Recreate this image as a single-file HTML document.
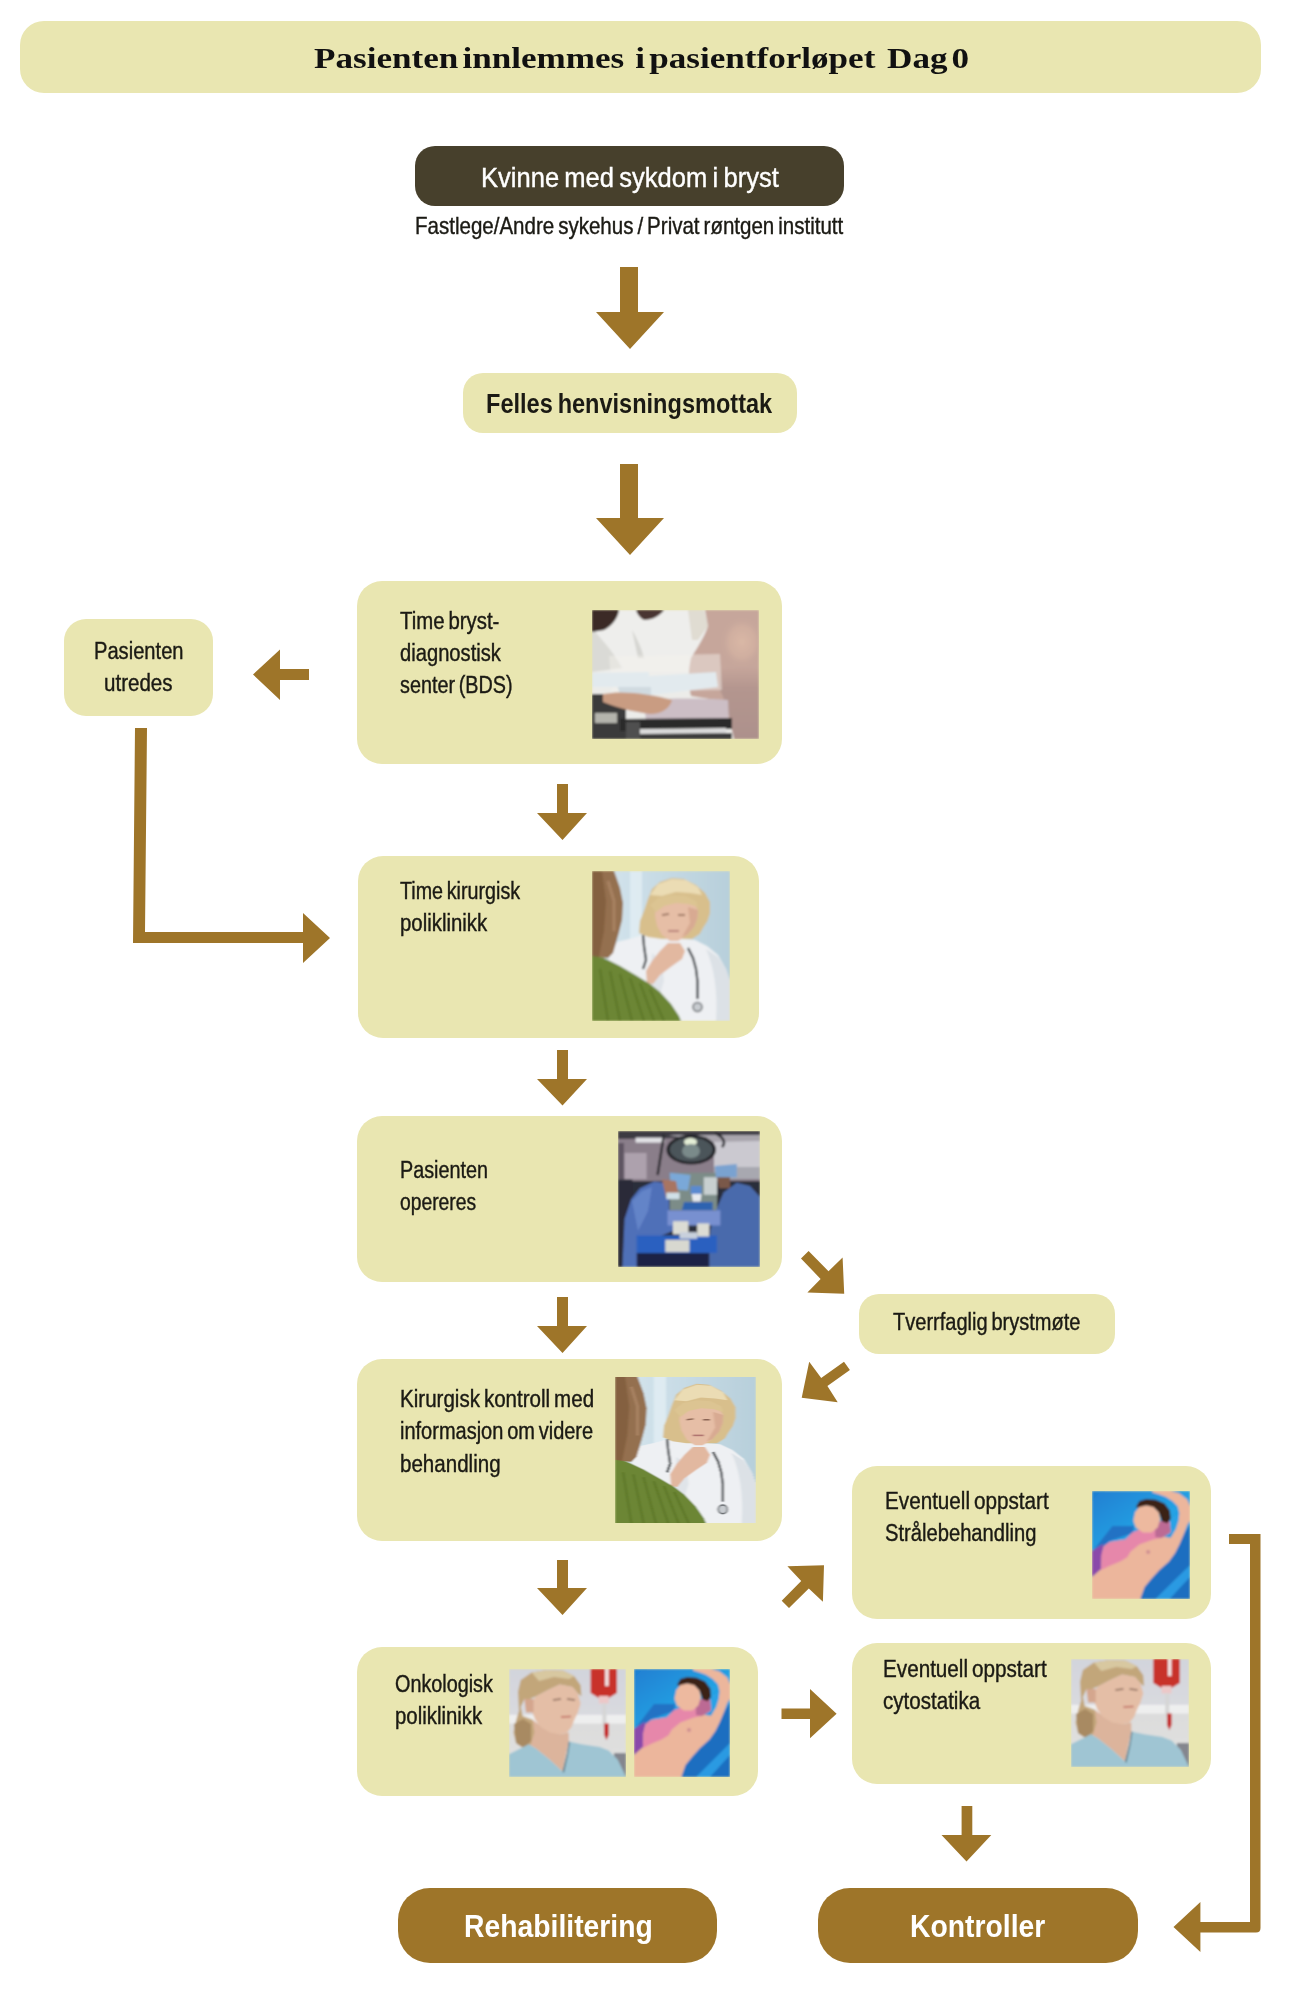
<!DOCTYPE html>
<html><head><meta charset="utf-8">
<style>
html,body{margin:0;padding:0;background:#fff;}
body{width:1291px;height:2000px;position:relative;overflow:hidden;font-family:"Liberation Sans",sans-serif;color:#1b1a14;}
.bx{position:absolute;background:#e9e6b1;border-radius:25px;}
.t{position:absolute;white-space:nowrap;font-size:23px;line-height:32px;transform-origin:0 0;transform:scaleX(0.86);word-spacing:-2px;-webkit-text-stroke:0.4px #1b1a14;}
.ph{position:absolute;overflow:hidden;}
.ph svg{display:block;width:100%;height:100%;}
#arrows{position:absolute;left:0;top:0;}
</style></head><body>

<svg width="0" height="0" style="position:absolute">
<defs>
<filter id="soft" x="0" y="0" width="1" height="1"><feGaussianBlur stdDeviation="0.8"/></filter>
<linearGradient id="docbg" x1="0" y1="0" x2="1" y2="0"><stop offset="0" stop-color="#d6e6ee"/><stop offset="1" stop-color="#b7cfdb"/></linearGradient>
<linearGradient id="radbg" x1="0" y1="0" x2="0.6" y2="1"><stop offset="0" stop-color="#1f7fd2"/><stop offset="0.5" stop-color="#25a2e4"/><stop offset="1" stop-color="#1c8ad6"/></linearGradient>
<linearGradient id="nurbg" x1="0" y1="0" x2="0" y2="1"><stop offset="0" stop-color="#d2d4dc"/><stop offset="0.42" stop-color="#d9dadf"/><stop offset="0.43" stop-color="#eff0f0"/><stop offset="0.5" stop-color="#eeeeee"/><stop offset="0.51" stop-color="#dcdcdc"/><stop offset="1" stop-color="#e2e2e0"/></linearGradient>
<linearGradient id="surgtop" x1="0" y1="0" x2="1" y2="0"><stop offset="0" stop-color="#8c8290"/><stop offset="1" stop-color="#d2d0d6"/></linearGradient>
<radialGradient id="bdshl"><stop offset="0" stop-color="#dab8a6"/><stop offset="0.6" stop-color="#d4b2a2" stop-opacity="0.7"/><stop offset="1" stop-color="#c6a69b" stop-opacity="0"/></radialGradient>
<linearGradient id="bdsdk" x1="0" y1="0" x2="0" y2="1"><stop offset="0" stop-color="#b4968f" stop-opacity="0"/><stop offset="0.3" stop-color="#b4968f"/><stop offset="1" stop-color="#ad918c"/></linearGradient>
</defs>
</svg>

<!-- header -->
<div class="bx" style="left:20px;top:21px;width:1241px;height:72px;border-radius:24px;"></div>
<div style="position:absolute;left:314px;top:38px;white-space:nowrap;font-family:'Liberation Serif',serif;font-weight:bold;font-size:30px;line-height:40px;color:#111;transform-origin:0 0;transform:scaleX(1.17);word-spacing:-4px;">Pasienten innlemmes&nbsp;<span style="display:inline-block;width:2.5px"></span> i pasientforløpet&nbsp;<span style="display:inline-block;width:3px"></span> Dag 0</div>

<!-- dark box -->
<div style="position:absolute;left:415px;top:146px;width:429px;height:60px;border-radius:20px;background:#47402c;"></div>
<div class="t" style="left:481px;top:162px;color:#fff;font-size:28px;transform:scaleX(0.912);-webkit-text-stroke:0.4px #fff;">Kvinne med sykdom i bryst</div>
<div class="t" style="left:415px;top:210px;font-size:24px;transform:scaleX(0.855);">Fastlege/Andre sykehus / Privat røntgen institutt</div>

<!-- Felles -->
<div class="bx" style="left:463px;top:373px;width:334px;height:60px;border-radius:20px;"></div>
<div class="t" style="left:486px;top:387px;font-size:28.5px;font-weight:bold;transform:scaleX(0.826);-webkit-text-stroke:0;">Felles henvisningsmottak</div>

<!-- BDS -->
<div class="bx" style="left:357px;top:581px;width:425px;height:183px;"></div>
<div class="t" style="left:400px;top:605px;transform:scaleX(0.886);">Time bryst-</div>
<div class="t" style="left:400px;top:637px;transform:scaleX(0.877);">diagnostisk</div>
<div class="t" style="left:400px;top:669px;transform:scaleX(0.860);">senter (BDS)</div>
<div class="ph" id="p1" style="left:592px;top:610px;width:167px;height:129px;"><svg viewBox="0 0 167 129" preserveAspectRatio="none"><g filter="url(#soft)">
<rect width="167" height="129" fill="#ecece9"/>
<path d="M0,0 L114,0 L114,62 L0,62 Z" fill="#eeeeec"/>
<path d="M0,18 C10,30 20,40 30,58 L0,62 Z" fill="#dadad6"/>
<path d="M40,20 C46,30 50,40 52,48 L46,48 Z" fill="#d6d6d2"/>
<path d="M96,0 L112,0 L116,16 L106,30 L100,30 Z" fill="#e0dcd2"/>
<path d="M0,0 L27,0 C26,8 20,16 12,20 L0,22 Z" fill="#3b2c28"/>
<path d="M44,0 L72,0 C68,6 60,10 52,10 C48,8 45,4 44,0 Z" fill="#4a3530"/>
<path d="M113,0 L167,0 L167,129 L142,129 C140,118 134,100 124,90 L99,86 C96,75 96,62 99,48 C105,38 112,28 116,16 Z" fill="#c6a69b"/>
<ellipse cx="150" cy="32" rx="22" ry="26" fill="url(#bdshl)"/>
<path d="M128,60 C144,56 160,56 167,58 L167,129 L142,129 C140,118 136,96 128,80 Z" fill="url(#bdsdk)"/>
<path d="M17,46 L128,44 L130,80 L20,82 Z" fill="#f4f2ee" opacity="0.45"/>
<path d="M0,63 L57,62 L57,66 L124,62 L126,77 L59,85 L28,85 L26,77 L0,77 Z" fill="#e2eaee"/>
<path d="M26,77 L59,77 L59,85 L28,85 Z" fill="#d0dae0"/>
<path d="M0,84 L34,84 L34,129 L0,129 Z" fill="#3a3a3a"/>
<path d="M52,90 C80,88 110,88 136,90 L137,112 C110,114 80,114 54,112 Z" fill="#ccbec5"/>
<path d="M11,84 C30,80 60,84 80,90 C78,98 70,104 58,104 C40,102 20,96 11,92 Z" fill="#c99c82"/>
<rect x="3" y="103" width="22" height="10" fill="#b4b4ac"/>
<path d="M28,109 L140,108 L140,119 L28,121 Z" fill="#2c2c2c"/>
<path d="M34,112 L48,112 L48,129 L34,129 Z" fill="#505050"/>
<path d="M48,119 L134,118 L134,124 L48,125 Z" fill="#dcdcdc"/>
<path d="M48,124 L140,123 L140,129 L48,129 Z" fill="#3a3a3a"/>
</g></svg></div>

<!-- Pasienten utredes -->
<div class="bx" style="left:64px;top:619px;width:149px;height:97px;border-radius:22px;"></div>
<div class="t" style="left:94px;top:635px;transform:scaleX(0.875);">Pasienten</div>
<div class="t" style="left:104px;top:667px;transform:scaleX(0.894);">utredes</div>

<!-- Kirurgisk -->
<div class="bx" style="left:358px;top:856px;width:401px;height:182px;"></div>
<div class="t" style="left:400px;top:875px;transform:scaleX(0.856);">Time kirurgisk</div>
<div class="t" style="left:400px;top:907px;transform:scaleX(0.886);">poliklinikk</div>
<div class="ph" id="p2" style="left:592px;top:871px;width:138px;height:150px;"><svg viewBox="0 0 138 150" preserveAspectRatio="none"><g filter="url(#soft)">
<rect width="138" height="150" fill="url(#docbg)"/>
<rect x="38" y="0" width="12" height="150" fill="#e2eef4" opacity="0.8"/>
<path d="M16,89 L25,71 L41,67 L51,64 L103,69 L115,75 L126,84 L134,98 L138,110 L138,150 L80,150 Z" fill="#eef0f3"/>
<path d="M114,78 L126,86 L134,98 L138,110 L138,150 L124,150 C126,120 122,96 114,78 Z" fill="#dce1e6"/>
<path d="M60,82 L70,90 L72,110 L66,130 L58,118 Z" fill="#e0e4e9"/>
<path d="M47,62 L48,50 L52,40 L56,28 L60,18 L68,11 L80,7 L92,8 L104,14 L113,22 L118,31 L118,42 L115.5,50 L111,57 L107.7,63 L100,68 L88,68 L70,68 L56,66 Z" fill="#d8bf8c"/>
<path d="M58,24 L66,13 L80,8 L94,9 L106,16 L110,24 L98,22 L84,21 L70,25 Z" fill="#ebdcb4"/>
<path d="M63.6,37 L70,34 L80,32 L92,31 L102,33 L106,39 L105.4,47 L102,56 L95,64 L86,70 L78,70 L70,64 L65,55 L63,45 Z" fill="#e6bea6"/>
<path d="M96,36 L106,39 L105.4,47 L102,56 L95,64 L90,66 L98,52 Z" fill="#d8aa92"/>
<path d="M58,34 L66,27 L80,24 L94,25 L104,30 L106,36 L96,33 L84,32 L72,35 L64,41 Z" fill="#dcc492"/>
<path d="M70,44 L77,43 M86,44 L93,44" stroke="#8a6452" stroke-width="1.5"/>
<path d="M76,60 L87,60" stroke="#b07470" stroke-width="1.6"/>
<path d="M55,112 L54,100 L60,90 L68,80 L76,72 L88,72 L93,80 L90,88 L80,95 L68,104 L61,113 Z" fill="#e2b8a0"/>
<path d="M51,64 L52,75 L54,89 L51,98" stroke="#2b3036" stroke-width="2.2" fill="none"/>
<path d="M96,77 L101,87 L104,98 L105.5,110 L105.5,128" stroke="#2b3036" stroke-width="2.2" fill="none"/>
<circle cx="105.5" cy="136" r="4.5" fill="#c8ccd0" stroke="#6a6e72" stroke-width="1.5"/>
<path d="M0,0 L22,0 L28,17 L31,32 L30,49 L26.5,63 L21,82 L16,87 L0,86 Z" fill="#94704f"/>
<path d="M0,0 L10,0 L14,30 L12,60 L7,86 L0,86 Z" fill="#84603f"/>
<path d="M16,10 L22,30 L22,60" stroke="#a88262" stroke-width="3" fill="none"/>
<path d="M0,85 L10,86.5 L16,89 L28,95 L45,105 L58,113 L68,121 L79,133 L87,145 L89,150 L0,150 Z" fill="#6c8634"/>
<path d="M8,98 L16,150 M18,100 L28,150 M28,103 L40,150 M38,107 L52,150 M48,112 L62,150 M58,118 L72,150" stroke="#5b7428" stroke-width="1.8" fill="none"/>
</g></svg></div>

<!-- Opereres -->
<div class="bx" style="left:357px;top:1116px;width:425px;height:166px;"></div>
<div class="t" style="left:400px;top:1154px;transform:scaleX(0.860);">Pasienten</div>
<div class="t" style="left:400px;top:1186px;transform:scaleX(0.839);">opereres</div>
<div class="ph" id="p3" style="left:618px;top:1131px;width:142px;height:136px;"><svg viewBox="0 0 142 136" preserveAspectRatio="none"><g filter="url(#soft)">
<rect width="142" height="136" fill="#2a2d3a"/>
<rect x="0" y="0" width="142" height="50" fill="#8a7e8a"/>
<path d="M0,0 L142,0 L142,6 L0,8 Z" fill="#3c3a42"/>
<path d="M50,4 L142,4 L142,12 L96,12 Z" fill="#a9a5ad"/>
<path d="M96,11 L142,10 L142,38 L96,38 Z" fill="#cbc9d0"/>
<path d="M96,36 L142,36 L142,48 L96,48 Z" fill="#a8a8b0"/>
<rect x="17.6" y="6.6" width="29" height="5" fill="#e2e2e6"/>
<rect x="6.6" y="22" width="22" height="26" fill="#ada1ad"/>
<rect x="0" y="12" width="6" height="36" fill="#5e5462"/>
<path d="M51.7,41.8 L99,41.8 L99,79.2 L51.7,79.2 Z" fill="#7c8c88"/>
<path d="M85.8,46.2 L99,46.2 L99,63.8 L85.8,63.8 Z" fill="#c8d0d0"/>
<path d="M46,3.3 L39.6,44" stroke="#2c2c30" stroke-width="2.5"/>
<path d="M97,2 C106,6 108,12 104,16" stroke="#2c2c30" stroke-width="2.5" fill="none"/>
<ellipse cx="73.2" cy="18.7" rx="24.8" ry="14.9" fill="#222428"/>
<ellipse cx="73.2" cy="18.7" rx="21.5" ry="12" fill="#4c545a"/>
<ellipse cx="72.5" cy="11" rx="6.5" ry="4" fill="#e4eed6"/>
<ellipse cx="73" cy="20" rx="9" ry="7" fill="#7a8a8a"/>
<rect x="0" y="48.4" width="14.3" height="87.6" fill="#2a2c38"/>
<path d="M4.4,136 L6.6,88 L13.2,68.2 L22,57.2 L36.3,50.6 L46.2,51.7 L50.6,61.6 L51.7,88 L55,93.5 L57.2,99 L44,104.5 L27.5,115.5 L22,136 Z" fill="#4f6fb8"/>
<path d="M14,70 L24,60 L34,56 L30,80 L20,100 Z" fill="#6384c8"/>
<path d="M51.7,41.8 L72.6,44 L70,59.4 L53,58 Z" fill="#7aa8d8"/>
<path d="M44,48.4 L58,50 L61.6,68.2 L48,66 Z" fill="#a87462"/>
<path d="M48.4,61.6 L61.6,61.6 L61.6,68.2 L48.4,68.2 Z" fill="#d0e0e8"/>
<path d="M63.8,79.2 L66,71 L94.6,71 L94.6,79.2 Z" fill="#2f64b0"/>
<path d="M72.6,55 L83.6,55 L83.6,63 L72.6,63 Z" fill="#5a8ad0"/>
<path d="M73.7,63 L83.6,63 L82.5,70.4 L74.8,70.4 Z" fill="#e6eaf0"/>
<path d="M96.8,35 L118.8,33 L118.8,46.2 L98,47 Z" fill="#7aa2d0"/>
<path d="M99,46.2 L112,46.2 L112,57.2 L101,57.2 Z" fill="#7a5848"/>
<path d="M90.2,136 L92.4,99 L99,77 L105.6,61.6 L118.8,51.7 L132,55 L142,66 L142,136 Z" fill="#4a6aac"/>
<path d="M49.5,79.2 L102.3,79.2 L102.3,94.6 L49.5,94.6 Z" fill="#7890d0"/>
<path d="M18.7,104.5 L99,104.5 L99,122 L18.7,122 Z" fill="#2a60c0"/>
<path d="M55,90.2 L70.4,90.2 L70.4,103.4 L55,103.4 Z" fill="#dcdcd4"/>
<path d="M79.2,92.4 L91.3,92.4 L91.3,105.6 L79.2,105.6 Z" fill="#dcdcd4"/>
<path d="M61.6,101.2 L79.2,101.2 L79.2,107.8 L61.6,107.8 Z" fill="#c8d0dc"/>
<path d="M47.3,108.9 L71.5,108.9 L71.5,121 L47.3,121 Z" fill="#d8d8d0"/>
<path d="M18.7,122 L91.3,122 L91.3,136 L18.7,136 Z" fill="#1c2244"/>
</g></svg></div>

<!-- Tverrfaglig -->
<div class="bx" style="left:859px;top:1294px;width:256px;height:60px;border-radius:20px;"></div>
<div class="t" style="left:893px;top:1306px;transform:scaleX(0.871);">Tverrfaglig brystmøte</div>

<!-- Kontroll -->
<div class="bx" style="left:357px;top:1359px;width:425px;height:182px;"></div>
<div class="t" style="left:400px;top:1383px;transform:scaleX(0.894);">Kirurgisk kontroll med</div>
<div class="t" style="left:400px;top:1415px;transform:scaleX(0.869);">informasjon om videre</div>
<div class="t" style="left:400px;top:1448px;transform:scaleX(0.894);">behandling</div>
<div class="ph" id="p4" style="left:615px;top:1377px;width:141px;height:146px;"><svg viewBox="0 0 138 150" preserveAspectRatio="none"><g filter="url(#soft)">
<rect width="138" height="150" fill="url(#docbg)"/>
<rect x="38" y="0" width="12" height="150" fill="#e2eef4" opacity="0.8"/>
<path d="M16,89 L25,71 L41,67 L51,64 L103,69 L115,75 L126,84 L134,98 L138,110 L138,150 L80,150 Z" fill="#eef0f3"/>
<path d="M114,78 L126,86 L134,98 L138,110 L138,150 L124,150 C126,120 122,96 114,78 Z" fill="#dce1e6"/>
<path d="M60,82 L70,90 L72,110 L66,130 L58,118 Z" fill="#e0e4e9"/>
<path d="M47,62 L48,50 L52,40 L56,28 L60,18 L68,11 L80,7 L92,8 L104,14 L113,22 L118,31 L118,42 L115.5,50 L111,57 L107.7,63 L100,68 L88,68 L70,68 L56,66 Z" fill="#d8bf8c"/>
<path d="M58,24 L66,13 L80,8 L94,9 L106,16 L110,24 L98,22 L84,21 L70,25 Z" fill="#ebdcb4"/>
<path d="M63.6,37 L70,34 L80,32 L92,31 L102,33 L106,39 L105.4,47 L102,56 L95,64 L86,70 L78,70 L70,64 L65,55 L63,45 Z" fill="#e6bea6"/>
<path d="M96,36 L106,39 L105.4,47 L102,56 L95,64 L90,66 L98,52 Z" fill="#d8aa92"/>
<path d="M58,34 L66,27 L80,24 L94,25 L104,30 L106,36 L96,33 L84,32 L72,35 L64,41 Z" fill="#dcc492"/>
<path d="M70,44 L77,43 M86,44 L93,44" stroke="#8a6452" stroke-width="1.5"/>
<path d="M76,60 L87,60" stroke="#b07470" stroke-width="1.6"/>
<path d="M55,112 L54,100 L60,90 L68,80 L76,72 L88,72 L93,80 L90,88 L80,95 L68,104 L61,113 Z" fill="#e2b8a0"/>
<path d="M51,64 L52,75 L54,89 L51,98" stroke="#2b3036" stroke-width="2.2" fill="none"/>
<path d="M96,77 L101,87 L104,98 L105.5,110 L105.5,128" stroke="#2b3036" stroke-width="2.2" fill="none"/>
<circle cx="105.5" cy="136" r="4.5" fill="#c8ccd0" stroke="#6a6e72" stroke-width="1.5"/>
<path d="M0,0 L22,0 L28,17 L31,32 L30,49 L26.5,63 L21,82 L16,87 L0,86 Z" fill="#94704f"/>
<path d="M0,0 L10,0 L14,30 L12,60 L7,86 L0,86 Z" fill="#84603f"/>
<path d="M16,10 L22,30 L22,60" stroke="#a88262" stroke-width="3" fill="none"/>
<path d="M0,85 L10,86.5 L16,89 L28,95 L45,105 L58,113 L68,121 L79,133 L87,145 L89,150 L0,150 Z" fill="#6c8634"/>
<path d="M8,98 L16,150 M18,100 L28,150 M28,103 L40,150 M38,107 L52,150 M48,112 L62,150 M58,118 L72,150" stroke="#5b7428" stroke-width="1.8" fill="none"/>
</g></svg></div>

<!-- Straale -->
<div class="bx" style="left:852px;top:1466px;width:359px;height:153px;"></div>
<div class="t" style="left:885px;top:1485px;transform:scaleX(0.899);">Eventuell oppstart</div>
<div class="t" style="left:885px;top:1517px;transform:scaleX(0.877);">Strålebehandling</div>
<div class="ph" id="p5" style="left:1092px;top:1491px;width:98px;height:108px;"><svg viewBox="0 0 96 108" preserveAspectRatio="none"><g filter="url(#soft)">
<rect width="96" height="108" fill="url(#radbg)"/>
<path d="M0,61 L20,35 L41,35 L40,42 L17,50 L9,60 Z" fill="#2272c4"/>
<path d="M47.3,108 L51.5,96 L58.4,87.6 L66,79 L75.4,70.6 L81.4,62 L85.6,53.5 L89.9,43.3 L96,34 L96,108 Z" fill="#1d6ec0"/>
<path d="M62,108 L96,74 L96,86 L76,108 Z" fill="#2a9ae2"/>
<path d="M76,28 L86,22 L86,38 L78,44 Z" fill="#2aa2e6"/>
<path d="M0,60 L11,53 L9,79 L0,86 Z" fill="#8a48aa"/>
<path d="M0,108 L0,86 L9,78 L9.4,64 L11.5,55.3 L17.5,51 L33,48.4 L40,41.6 L48,41 L58,40 L65,44 L72,46 L77,46.7 L82.2,38.2 L84.8,29.7 L85.6,22 L83.9,15.2 L78.8,10.1 L72,5.8 L65.2,3.3 L59.2,1.6 L59.2,0 L77.1,0 L85.6,2.4 L93.3,8.4 L96,15.2 L96,29.7 L93.3,34 L89.9,43.3 L85.6,53.5 L81.4,62 L75.4,70.6 L66,79 L58.4,87.6 L51.5,96 L47.3,108 Z" fill="#ecb69c"/>
<path d="M8.9,79 L9.4,63.8 L11.5,55.3 L17.5,51 L32.8,48.4 L39.6,41.6 L56.7,34 L68.6,29.7 L76.3,30.5 L77.1,41.6 L68.6,46.7 L60.1,48.4 L46.4,53.5 L37.9,60.4 L34.5,66.3 L27.7,70.6 L17.5,74.8 Z" fill="#e687aa"/>
<path d="M61.8,31 L75.4,29.7 L77,41 L68,47 L62,46 Z" fill="#bc6a94"/>
<path d="M43,16 L46.4,10.1 L53.3,8 L62.6,8.8 L71.1,12.6 L76.3,19.5 L77.1,28 L73.7,32.2 L68.6,30.5 L66,22.9 L61.8,17.8 L53.3,14.4 L46.4,16.9 Z" fill="#3a2016"/>
<path d="M40.5,29.7 L42.2,21.2 L46.4,16 L53.3,14.4 L60.1,16 L65.2,21.2 L66.9,28 L64.3,36.5 L58.4,41.6 L49.8,41.6 L43,36.5 Z" fill="#edb99f"/>
<circle cx="55" cy="61" r="2" fill="#cf8e92"/>
</g></svg></div>

<!-- Onkologisk -->
<div class="bx" style="left:357px;top:1647px;width:401px;height:149px;"></div>
<div class="t" style="left:395px;top:1668px;transform:scaleX(0.860);">Onkologisk</div>
<div class="t" style="left:395px;top:1700px;transform:scaleX(0.886);">poliklinikk</div>
<div class="ph" id="p6" style="left:509px;top:1669px;width:117px;height:108px;"><svg viewBox="0 0 117 108" preserveAspectRatio="none"><g filter="url(#soft)">
<rect width="117" height="108" fill="url(#nurbg)"/>
<path d="M105,84 L117,84 L117,108 L105,108 Z" fill="#84868e"/>
<path d="M23.6,50.8 L34.5,59 L50.8,65.3 L59.8,63.5 L59.8,72.5 L56.2,88.8 L53.5,102.4 L40.8,90.7 L27.2,79.8 L19.9,75.2 Z" fill="#dcb49c"/>
<path d="M9,22.7 L11.8,10.9 L22.7,3.6 L38,0.9 L54.4,1.8 L65.3,7.3 L71.6,16.3 L72.5,27.2 L68.9,24.5 L63.5,18.1 L50.8,15.4 L39,20.9 L27.2,27.2 L20.9,29.9 L15.4,29.9 L11.8,38.1 L13.6,47.1 L23.6,50.8 L25.4,63.5 L21.8,75.2 L15.4,79.8 L7.3,74.3 L4.5,63.5 L7.3,50.8 L10,41.7 Z" fill="#c2a67a"/>
<path d="M22.7,3.6 L38,0.9 L54.4,1.8 L65.3,7.3 L60,10 L45,8 L30,12 Z" fill="#d8c8a0"/>
<path d="M5,55 L14,50 L22,55 L22,72 L15,79 L7,74 Z" fill="#a88a62"/>
<path d="M27.2,27.2 L39,20.9 L50.8,15.4 L63.5,18.1 L68.9,24.5 L71.6,34.5 L68.9,43.5 L65.3,50.8 L62.6,58 L58,63.5 L50.8,65.3 L40.8,63.5 L31.7,58 L26.3,50.8 L22.7,41.7 L20.9,34.5 Z" fill="#e4bea6"/>
<path d="M15.4,30 L24.5,30 L24.5,43.5 L17,43.5 Z" fill="#d4a68e"/>
<path d="M44,31 L52,30 M58,30 L66,31" stroke="#8a6a5a" stroke-width="1.4"/>
<path d="M52,48 L62,47.5" stroke="#c06a60" stroke-width="1.6"/>
<path d="M0,85.2 L16.3,77 L19.9,75.2 L27.2,79.8 L40.8,90.7 L53.5,102.4 L58,84.3 L59.8,72.5 L72.5,75.2 L90.7,78 L99.7,81.6 L108.8,90.7 L117,108 L0,108 Z" fill="#9fc5d3"/>
<path d="M53.5,102.4 L58,84.3 L59.8,72.5 L61,73 L59,86 L55,104 Z" fill="#5f7f8c"/>
<path d="M81.6,0 L107.9,0 L107.9,24 L99.7,29 L89.8,29 L81.6,24 Z" fill="#c8302c"/>
<rect x="96.1" y="0" width="3.6" height="17" fill="#f2e4e4"/>
<path d="M89.8,27 L99.7,27 L99.7,34.5 L89.8,34.5 Z" fill="#ecc8c8"/>
<rect x="93.4" y="34.5" width="4" height="24" fill="#d6d6d6"/>
<path d="M95.2,54.4 L99.7,54.4 L99.7,66 L97.5,71 L95.2,66 Z" fill="#c42828"/>
</g></svg></div>
<div class="ph" id="p7" style="left:634px;top:1669px;width:96px;height:108px;"><svg viewBox="0 0 96 108" preserveAspectRatio="none"><g filter="url(#soft)">
<rect width="96" height="108" fill="url(#radbg)"/>
<path d="M0,61 L20,35 L41,35 L40,42 L17,50 L9,60 Z" fill="#2272c4"/>
<path d="M47.3,108 L51.5,96 L58.4,87.6 L66,79 L75.4,70.6 L81.4,62 L85.6,53.5 L89.9,43.3 L96,34 L96,108 Z" fill="#1d6ec0"/>
<path d="M62,108 L96,74 L96,86 L76,108 Z" fill="#2a9ae2"/>
<path d="M76,28 L86,22 L86,38 L78,44 Z" fill="#2aa2e6"/>
<path d="M0,60 L11,53 L9,79 L0,86 Z" fill="#8a48aa"/>
<path d="M0,108 L0,86 L9,78 L9.4,64 L11.5,55.3 L17.5,51 L33,48.4 L40,41.6 L48,41 L58,40 L65,44 L72,46 L77,46.7 L82.2,38.2 L84.8,29.7 L85.6,22 L83.9,15.2 L78.8,10.1 L72,5.8 L65.2,3.3 L59.2,1.6 L59.2,0 L77.1,0 L85.6,2.4 L93.3,8.4 L96,15.2 L96,29.7 L93.3,34 L89.9,43.3 L85.6,53.5 L81.4,62 L75.4,70.6 L66,79 L58.4,87.6 L51.5,96 L47.3,108 Z" fill="#ecb69c"/>
<path d="M8.9,79 L9.4,63.8 L11.5,55.3 L17.5,51 L32.8,48.4 L39.6,41.6 L56.7,34 L68.6,29.7 L76.3,30.5 L77.1,41.6 L68.6,46.7 L60.1,48.4 L46.4,53.5 L37.9,60.4 L34.5,66.3 L27.7,70.6 L17.5,74.8 Z" fill="#e687aa"/>
<path d="M61.8,31 L75.4,29.7 L77,41 L68,47 L62,46 Z" fill="#bc6a94"/>
<path d="M43,16 L46.4,10.1 L53.3,8 L62.6,8.8 L71.1,12.6 L76.3,19.5 L77.1,28 L73.7,32.2 L68.6,30.5 L66,22.9 L61.8,17.8 L53.3,14.4 L46.4,16.9 Z" fill="#3a2016"/>
<path d="M40.5,29.7 L42.2,21.2 L46.4,16 L53.3,14.4 L60.1,16 L65.2,21.2 L66.9,28 L64.3,36.5 L58.4,41.6 L49.8,41.6 L43,36.5 Z" fill="#edb99f"/>
<circle cx="55" cy="61" r="2" fill="#cf8e92"/>
</g></svg></div>

<!-- Cytostatika -->
<div class="bx" style="left:852px;top:1643px;width:359px;height:141px;"></div>
<div class="t" style="left:883px;top:1653px;transform:scaleX(0.899);">Eventuell oppstart</div>
<div class="t" style="left:883px;top:1685px;transform:scaleX(0.894);">cytostatika</div>
<div class="ph" id="p8" style="left:1071px;top:1659px;width:118px;height:108px;"><svg viewBox="0 0 117 108" preserveAspectRatio="none"><g filter="url(#soft)">
<rect width="117" height="108" fill="url(#nurbg)"/>
<path d="M105,84 L117,84 L117,108 L105,108 Z" fill="#84868e"/>
<path d="M23.6,50.8 L34.5,59 L50.8,65.3 L59.8,63.5 L59.8,72.5 L56.2,88.8 L53.5,102.4 L40.8,90.7 L27.2,79.8 L19.9,75.2 Z" fill="#dcb49c"/>
<path d="M9,22.7 L11.8,10.9 L22.7,3.6 L38,0.9 L54.4,1.8 L65.3,7.3 L71.6,16.3 L72.5,27.2 L68.9,24.5 L63.5,18.1 L50.8,15.4 L39,20.9 L27.2,27.2 L20.9,29.9 L15.4,29.9 L11.8,38.1 L13.6,47.1 L23.6,50.8 L25.4,63.5 L21.8,75.2 L15.4,79.8 L7.3,74.3 L4.5,63.5 L7.3,50.8 L10,41.7 Z" fill="#c2a67a"/>
<path d="M22.7,3.6 L38,0.9 L54.4,1.8 L65.3,7.3 L60,10 L45,8 L30,12 Z" fill="#d8c8a0"/>
<path d="M5,55 L14,50 L22,55 L22,72 L15,79 L7,74 Z" fill="#a88a62"/>
<path d="M27.2,27.2 L39,20.9 L50.8,15.4 L63.5,18.1 L68.9,24.5 L71.6,34.5 L68.9,43.5 L65.3,50.8 L62.6,58 L58,63.5 L50.8,65.3 L40.8,63.5 L31.7,58 L26.3,50.8 L22.7,41.7 L20.9,34.5 Z" fill="#e4bea6"/>
<path d="M15.4,30 L24.5,30 L24.5,43.5 L17,43.5 Z" fill="#d4a68e"/>
<path d="M44,31 L52,30 M58,30 L66,31" stroke="#8a6a5a" stroke-width="1.4"/>
<path d="M52,48 L62,47.5" stroke="#c06a60" stroke-width="1.6"/>
<path d="M0,85.2 L16.3,77 L19.9,75.2 L27.2,79.8 L40.8,90.7 L53.5,102.4 L58,84.3 L59.8,72.5 L72.5,75.2 L90.7,78 L99.7,81.6 L108.8,90.7 L117,108 L0,108 Z" fill="#9fc5d3"/>
<path d="M53.5,102.4 L58,84.3 L59.8,72.5 L61,73 L59,86 L55,104 Z" fill="#5f7f8c"/>
<path d="M81.6,0 L107.9,0 L107.9,24 L99.7,29 L89.8,29 L81.6,24 Z" fill="#c8302c"/>
<rect x="96.1" y="0" width="3.6" height="17" fill="#f2e4e4"/>
<path d="M89.8,27 L99.7,27 L99.7,34.5 L89.8,34.5 Z" fill="#ecc8c8"/>
<rect x="93.4" y="34.5" width="4" height="24" fill="#d6d6d6"/>
<path d="M95.2,54.4 L99.7,54.4 L99.7,66 L97.5,71 L95.2,66 Z" fill="#c42828"/>
</g></svg></div>

<!-- Bottom boxes -->
<div style="position:absolute;left:398px;top:1888px;width:319px;height:75px;border-radius:32px;background:#9e7529;"></div>
<div class="t" style="left:464px;top:1910px;color:#fff;font-weight:bold;font-size:32px;transform:scaleX(0.885);-webkit-text-stroke:0;word-spacing:0;">Rehabilitering</div>
<div style="position:absolute;left:818px;top:1888px;width:320px;height:75px;border-radius:32px;background:#9e7529;"></div>
<div class="t" style="left:910px;top:1910px;color:#fff;font-weight:bold;font-size:32px;transform:scaleX(0.885);-webkit-text-stroke:0;word-spacing:0;">Kontroller</div>

<!-- arrows -->
<svg id="arrows" width="1291" height="2000" viewBox="0 0 1291 2000">
<g fill="#9e7529">
<polygon points="620,267 638,267 638,312 664,312 630,349 596,312 620,312"/>
<polygon points="620,464 638,464 638,518 664,518 630,555 596,518 620,518"/>
<polygon points="309,669 309,680 280,680 280,700 253,674.5 280,649.5 280,669"/>
<polygon points="135,728 147,728 145,932 303,932 303,913 330,938 303,963 303,943 133,943"/>
<polygon points="557,784 568,784 568,813 587,813 562.5,840 537,813 557,813"/>
<polygon points="557,1050 568,1050 568,1079 587,1079 562.5,1105.5 537,1079 557,1079"/>
<polygon points="557,1297 568,1297 568,1326 587,1326 562.5,1353 537,1326 557,1326"/>
<polygon points="557,1560 568,1560 568,1588 587,1588 562.5,1615 537,1588 557,1588"/>
<polygon points="961.6,1806 972.3,1806 972.3,1835 991.3,1835 966.5,1861.5 941.5,1835 961.6,1835"/>
<polygon points="801,1258.4 808.6,1251.1 828.5,1271.3 842.6,1257.4 844.2,1293.7 807.4,1292.6 820.6,1279"/>
<polygon points="809.2,1361.7 821.2,1377.9 844,1361.7 849.9,1370.1 827.4,1386.1 837.7,1402.3 801.7,1397.7"/>
<polygon points="787.4,1566.3 824,1565.2 822.9,1601.8 808.8,1588.5 789,1608 781.7,1600.7 801.2,1580.9"/>
<polygon points="781.5,1708.6 810,1708.6 810,1689 836.6,1713.8 810,1738.2 810,1719 781.5,1719"/>
<path d="M1229,1534 H1260.5 V1928 Q1260.5,1932.5 1256,1932.5 H1200.4 V1952 L1173.5,1927 L1200.4,1902 V1922 H1250 V1544 H1229 Z"/>
</g>
</svg>
</body></html>
